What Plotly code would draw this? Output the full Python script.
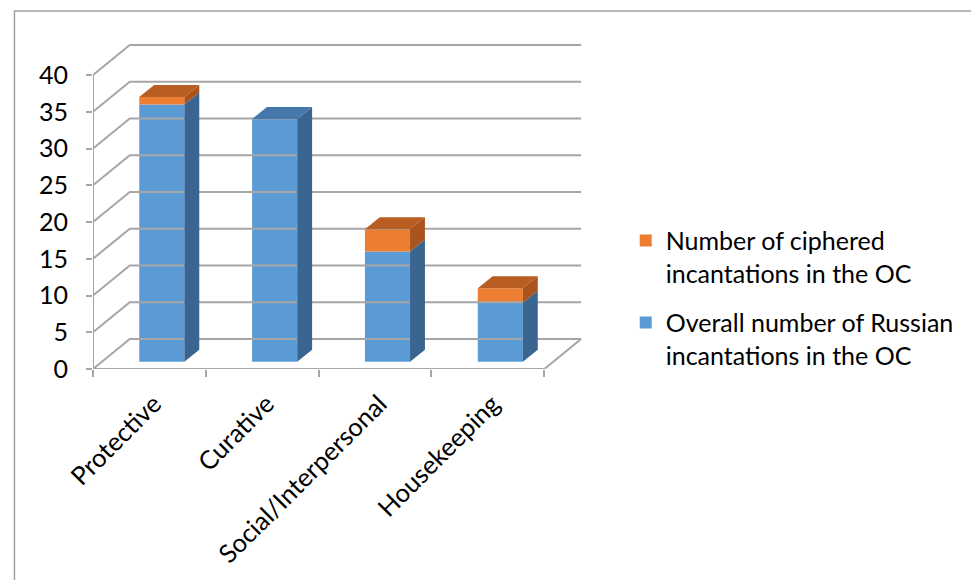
import plotly.graph_objects as go

# ---- data ----
categories = ["Protective", "Curative", "Social/Interpersonal", "Housekeeping"]
russian_total = [35, 33, 15, 8]          # Overall number of Russian incantations in the OC
ciphered = [1, 0, 3, 2]                 # Number of ciphered incantations in the OC
y_ticks = [0, 5, 10, 15, 20, 25, 30, 35, 40]

name_blue = "Overall number of Russian<br>incantations in the OC"
name_orange = "Number of ciphered<br>incantations in the OC"

# ---- pseudo-3D geometry (in axis units) ----
WALL_DX, WALL_DY = 0.326, 4.08      # depth of the back wall
BAR_X0, BAR_W = 0.41, 0.40          # bar front face within a category slot
BAR_BASE = 1.0                      # bars sit slightly behind the front plane
BAR_DX, BAR_DY = 0.132, 1.63        # depth of each bar

GRID = "#A6A6A6"
BLUE, BLUE_SIDE, BLUE_TOP = "#5B9BD5", "#3A6591", "#4677AA"
ORANGE, ORANGE_SIDE, ORANGE_TOP = "#ED7D31", "#A9541C", "#B85E22"
FONT = "Lato"

fig = go.Figure()

# back wall gridlines + left wall diagonals
gx, gy = [], []
n = len(categories)
for v in y_ticks:
    gx += [0, WALL_DX, n + WALL_DX, None]
    gy += [v, v + WALL_DY, v + WALL_DY, None]
# floor right edge, front floor edge, front vertical axis edge
gx += [n, n + WALL_DX, None, 0, n, None, 0, 0]
gy += [0, WALL_DY, None, 0, 0, None, 0, y_ticks[-1]]
fig.add_trace(go.Scatter(x=gx, y=gy, mode="lines", line=dict(color=GRID, width=2),
                         hoverinfo="skip", showlegend=False))

centers = [i + BAR_X0 + BAR_W / 2 for i in range(n)]

# front faces (real bars)
fig.add_trace(go.Bar(x=centers, y=russian_total, base=[BAR_BASE] * n, width=BAR_W,
                     marker=dict(color=BLUE, line=dict(width=0)), name=name_blue,
                     legendgroup="b", legendrank=2,
                     customdata=categories, hovertemplate="%{customdata}: %{y}<extra></extra>"))
fig.add_trace(go.Bar(x=centers, y=ciphered, base=[BAR_BASE + v for v in russian_total], width=BAR_W,
                     marker=dict(color=ORANGE, line=dict(width=0)), name=name_orange,
                     legendgroup="o", legendrank=1,
                     customdata=categories, hovertemplate="%{customdata}: %{y}<extra></extra>"))


def side_faces(bottoms, tops):
    xs, ys = [], []
    for i, (b, t) in enumerate(zip(bottoms, tops)):
        if t <= b:
            continue
        xr = i + BAR_X0 + BAR_W
        xs += [xr, xr + BAR_DX, xr + BAR_DX, xr, xr, None]
        ys += [b, b + BAR_DY, t + BAR_DY, t, b, None]
    return xs, ys


def top_faces(levels, mask):
    xs, ys = [], []
    for i, (t, m) in enumerate(zip(levels, mask)):
        if not m:
            continue
        xl = i + BAR_X0
        xr = xl + BAR_W
        xs += [xl, xl + BAR_DX, xr + BAR_DX, xr, xl, None]
        ys += [t, t + BAR_DY, t + BAR_DY, t, t, None]
    return xs, ys


blue_top_lvl = [BAR_BASE + v for v in russian_total]
orange_top_lvl = [BAR_BASE + v + c for v, c in zip(russian_total, ciphered)]

sx, sy = side_faces([BAR_BASE] * n, blue_top_lvl)
fig.add_trace(go.Scatter(x=sx, y=sy, mode="lines", fill="toself", fillcolor=BLUE_SIDE,
                         line=dict(width=0, color=BLUE_SIDE), hoverinfo="skip", showlegend=False))
sx, sy = side_faces(blue_top_lvl, orange_top_lvl)
fig.add_trace(go.Scatter(x=sx, y=sy, mode="lines", fill="toself", fillcolor=ORANGE_SIDE,
                         line=dict(width=0, color=ORANGE_SIDE), hoverinfo="skip", showlegend=False))
tx, ty = top_faces(blue_top_lvl, [c == 0 for c in ciphered])
fig.add_trace(go.Scatter(x=tx, y=ty, mode="lines", fill="toself", fillcolor=BLUE_TOP,
                         line=dict(width=0, color=BLUE_TOP), hoverinfo="skip", showlegend=False))
tx, ty = top_faces(orange_top_lvl, [c > 0 for c in ciphered])
fig.add_trace(go.Scatter(x=tx, y=ty, mode="lines", fill="toself", fillcolor=ORANGE_TOP,
                         line=dict(width=0, color=ORANGE_TOP), hoverinfo="skip", showlegend=False))

# ---- layout: pixel mapping ----
L, R, T, B = 93, 371, 40, 211
x_max = (971 - L - R) / 113.5
y_max = (580 - T - B) / 7.35

fig.update_layout(
    width=971, height=580,
    margin=dict(l=L, r=R, t=T, b=B, pad=0),
    paper_bgcolor="white", plot_bgcolor="white",
    barmode="overlay",
    font=dict(family=FONT, size=25, color="#000000"),
    showlegend=True,
    legend=dict(x=1.057, xanchor="left", y=0.46, yanchor="top",
                font=dict(family=FONT, size=25, color="#000000"),
                tracegroupgap=14, bgcolor="rgba(0,0,0,0)", itemwidth=30, valign="top"),
    xaxis=dict(range=[0, x_max], showgrid=False, zeroline=False, showline=False,
               tickmode="array", tickvals=[c - 0.07 for c in centers], ticktext=categories,
               ticks="", tickangle=-45, tickfont=dict(family=FONT, size=25.5),
               ticklabelstandoff=14,
               minor=dict(tickmode="array", tickvals=list(range(n + 1)), ticks="outside",
                          ticklen=7, tickwidth=2, tickcolor=GRID, showgrid=False),
               fixedrange=True),
    yaxis=dict(range=[0, y_max], showgrid=False, zeroline=False, showline=False,
               tickmode="array", tickvals=y_ticks, ticks="outside", ticklen=6,
               tickwidth=2, tickcolor=GRID, tickfont=dict(family=FONT, size=25),
               ticklabelstandoff=13, fixedrange=True),
    shapes=[dict(type="rect", xref="paper", yref="paper",
                 x0=(14 - L) / (971 - L - R), x1=(985 - L) / (971 - L - R),
                 y0=(580 - B - 595) / (580 - T - B), y1=(580 - B - 11) / (580 - T - B),
                 line=dict(color="#A0A0A0", width=1.5), fillcolor="rgba(0,0,0,0)", layer="below")],
)

fig.write_html("out.html")
